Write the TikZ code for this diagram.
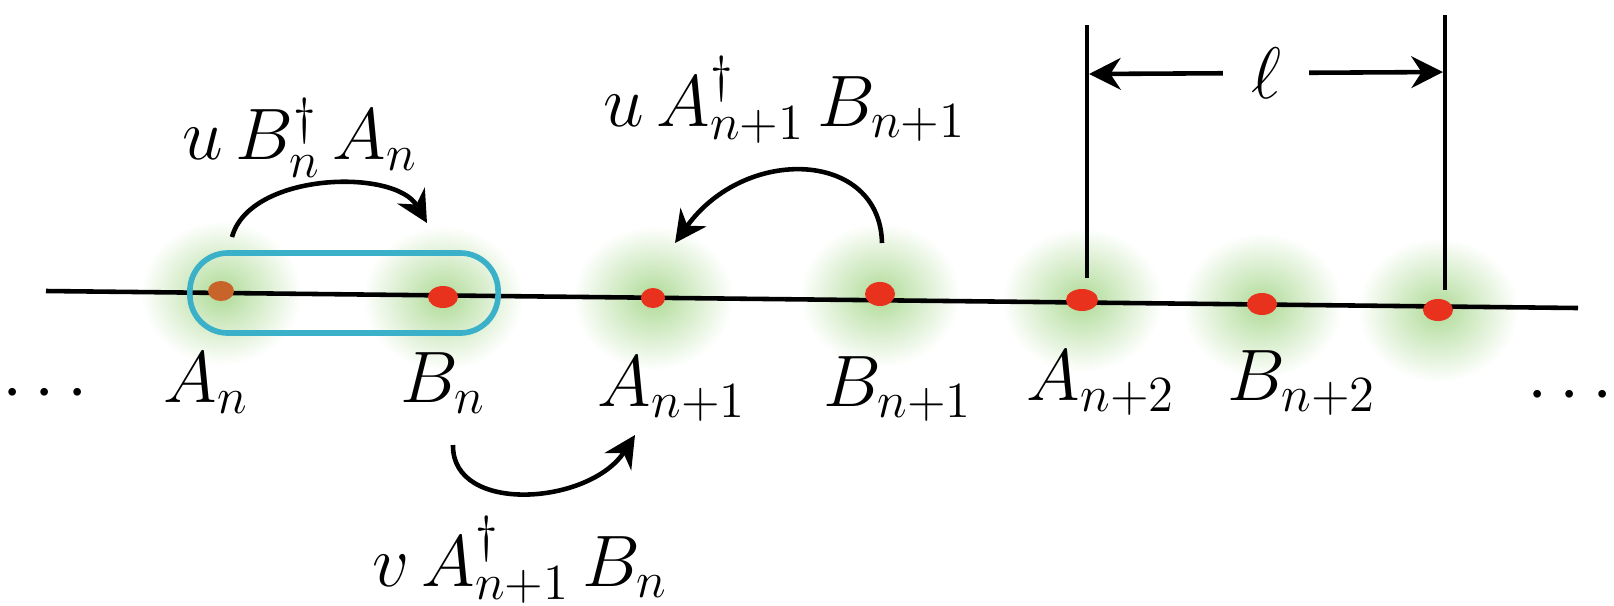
\documentclass[tikz,border=0pt]{standalone}
\usetikzlibrary{arrows.meta,fadings,shapes.geometric}
\definecolor{dotred}{HTML}{E8321E}
\definecolor{dotbrown}{HTML}{C8642A}
\definecolor{boxcyan}{HTML}{3BB0C9}
\definecolor{glowgreen}{HTML}{8CCB6A}
\tikzfading[name=glowfade, inner color=transparent!30, outer color=transparent!100]
\tikzset{
  ink/.style={line width=1.3pt, black},
  arc/.style={ink, -{Stealth[length=9pt,width=9pt]}},
  site/.style={ellipse, minimum width=0.3cm, minimum height=0.22cm, inner sep=0pt, outer sep=0pt, fill=dotred, draw=none},
  glow/.style={fill=glowgreen, path fading=glowfade},
  lab/.style={font=\fontsize{21}{25}\selectfont, inner sep=1pt},
  selbox/.style={draw=boxcyan, line width=1.6pt, rounded corners=0.38cm, minimum width=3.08cm, minimum height=0.8cm, inner sep=0pt},
}
\begin{document}
\begin{tikzpicture}[x=0.01cm, y=-0.01cm]
\useasboundingbox (0,0) rectangle (1614,605);
% glows
\foreach \x/\y in {221/293, 443/298, 653/298, 880/295, 1082/300, 1262/305, 1438/310}
  \fill[glow] (\x,\y) ellipse [x radius=80, y radius=72];
% main line
\coordinate (L0) at (46,291);
\coordinate (L1) at (1578,308);
\draw[ink] (L0) -- (L1);
% selection box
\node[selbox] (cell) at (344,293) {};
% sites
\node[site, fill=dotbrown, minimum width=0.26cm, minimum height=0.2cm] (An) at (221,291) {};
\node[site] (Bn) at (443,297) {};
\node[site, minimum width=0.24cm, minimum height=0.2cm] (An1) at (653,298) {};
\node[site, minimum height=0.24cm] (Bn1) at (880,294) {};
\node[site, minimum width=0.32cm] (An2) at (1082,300) {};
\node[site] (Bn2) at (1262,304) {};
\node[site] (An3) at (1438,310) {};
% labels under the chain
\node[lab] (dl) at (45,394) {$\cdots$};
\node[lab] (tAn) at (206,383) {$A_n$};
\node[lab] (tBn) at (443,383) {$B_n$};
\node[lab] (tAn1) at (672,389) {$A_{n+1}$};
\node[lab] (tBn1) at (898,389) {$B_{n+1}$};
\node[lab] (tAn2) at (1101,383) {$A_{n+2}$};
\node[lab] (tBn2) at (1302,383) {$B_{n+2}$};
\node[lab] (dr) at (1570,396) {$\cdots$};
% hopping arcs
\coordinate (s1) at (232,237);
\coordinate (e1) at (427,223);
\draw[arc] (s1) .. controls (250,172) and (395,168) .. (e1);
\node[lab] (h1) at (300,138) {$u\,B_n^{\dagger}\,A_n$};
\coordinate (s2) at (882,243);
\coordinate (e2) at (675,243);
\draw[arc] (s2) .. controls (880,150) and (745,145) .. (e2);
\node[lab] (h2) at (785,100) {$u\,A_{n+1}^{\dagger}\,B_{n+1}$};
\coordinate (s3) at (453,445);
\coordinate (e3) at (635,435);
\draw[arc] (s3) .. controls (452,515) and (590,505) .. (e3);
\node[lab] (h3) at (520,560) {$v\,A_{n+1}^{\dagger}\,B_n$};
% lattice constant
\coordinate (v1t) at (1087,25);
\coordinate (v1b) at (1087,278);
\coordinate (v2t) at (1445,15);
\coordinate (v2b) at (1445,290);
\draw[ink] (v1t) -- (v1b);
\draw[ink] (v2t) -- (v2b);
\coordinate (d1) at (1089,74);
\coordinate (d2) at (1443,72);
\draw[ink, {Stealth[length=9pt,width=9pt]}-{Stealth[length=9pt,width=9pt]}] (d1) -- node[lab, fill=white, inner xsep=8pt] (ell) {$\ell$} (d2);
\end{tikzpicture}
\end{document}
